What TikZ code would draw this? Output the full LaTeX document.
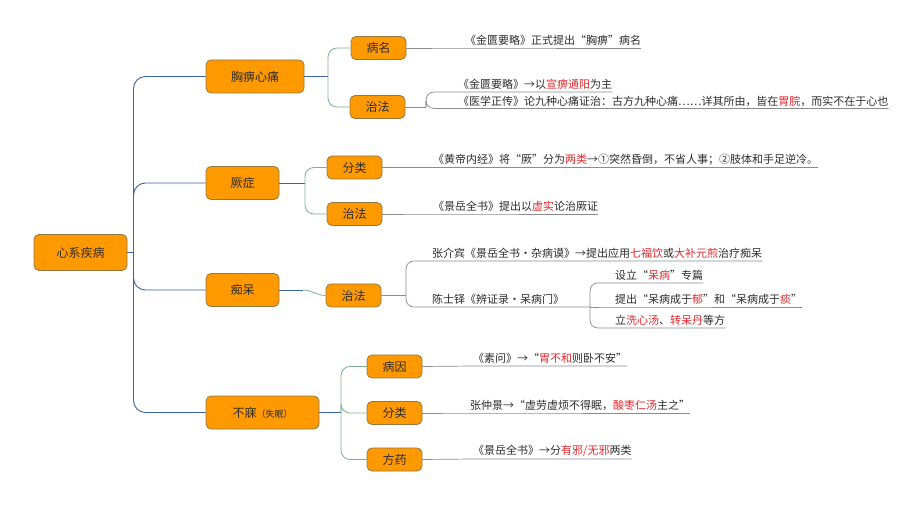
\documentclass[tikz,border=0pt]{standalone}
\usepackage{fontspec}
\setmainfont{Noto Sans CJK SC}
\definecolor{boxfill}{RGB}{255,153,0}
\definecolor{boxdraw}{RGB}{150,120,60}
\definecolor{trunkc}{RGB}{60,100,165}
\definecolor{branchc}{RGB}{125,178,145}
\definecolor{ulinec}{RGB}{140,140,140}
\definecolor{hlc}{RGB}{230,40,45}
\definecolor{txtc}{RGB}{45,45,45}
\newcommand{\rt}[1]{\textcolor{hlc}{#1}}
\tikzset{
  basebox/.style={draw=boxdraw, fill=boxfill, rounded corners=5pt, line width=0.8pt, text=txtc, inner sep=0pt, font=\fontsize{12}{14}\selectfont},
  rootbox/.style={basebox, minimum width=93pt, minimum height=36pt},
  lonebox/.style={basebox, minimum height=33pt},
  ltwobox/.style={basebox, minimum width=55pt, minimum height=23pt},
  leaf/.style={anchor=south west, inner xsep=0pt, inner ysep=2pt, text=txtc, font=\fontsize{11}{13}\selectfont},
  trunkline/.style={draw=trunkc, line width=0.9pt, rounded corners=12pt},
  branchline/.style={draw=branchc, line width=0.8pt, rounded corners=9pt},
  uline/.style={draw=ulinec, line width=0.7pt, rounded corners=8pt},
}
\begin{document}
\begin{tikzpicture}[x=1pt,y=-1pt]
\useasboundingbox[fill=white] (0,0) rectangle (922,505);

% root and level 1
\node[rootbox] (root) at (80.5,252.5) {心系疾病};
\node[lonebox, minimum width=98pt] (xb) at (255,76.5) {胸痹心痛};
\node[lonebox, minimum width=73pt] (jue) at (242.5,183) {厥症};
\node[lonebox, minimum width=73pt] (chi) at (242.5,290) {痴呆};
\node[lonebox, minimum width=113pt] (bumei) at (262.5,412.5) {不寐{\fontsize{9}{10}\selectfont （失眠）}};

% level 2
\node[ltwobox] (bm) at (378.5,48) {病名};
\node[ltwobox] (zf1) at (377.5,107) {治法};
\node[ltwobox] (fl1) at (354.5,167.5) {分类};
\node[ltwobox] (zf2) at (354.5,214) {治法};
\node[ltwobox] (zf3) at (353.5,295.5) {治法};
\node[ltwobox] (by) at (394.5,366.5) {病因};
\node[ltwobox] (fl2) at (394.5,413) {分类};
\node[ltwobox] (fy) at (394.5,459.5) {方药};

% leaves
\node[leaf] (L1) at (465,48) {《金匮要略》正式提出“胸痹”病名};
\node[leaf] (L2) at (458,92) {《金匮要略》→以\rt{宣痹通阳}为主};
\node[leaf] (L3) at (458,108.5) {《医学正传》论九种心痛证治：古方九种心痛……详其所由，皆在\rt{胃脘}，而实不在于心也};
\node[leaf] (L4) at (433,167.5) {《黄帝内经》将“厥”分为\rt{两类}→①突然昏倒，不省人事；②肢体和手足逆冷。};
\node[leaf] (L5) at (433,214) {《景岳全书》提出以\rt{虚实}论治厥证};
\node[leaf] (L6) at (432,261) {张介宾《景岳全书·杂病谟》→提出应用\rt{七福饮}或\rt{大补元煎}治疗痴呆};
\node[leaf] (L7) at (432,307) {陈士铎《辨证录·呆病门》};
\node[leaf] (L8) at (615,283) {设立“\rt{呆病}”专篇};
\node[leaf] (L9) at (615,307) {提出“呆病成于\rt{郁}”和“呆病成于\rt{痰}”};
\node[leaf] (L10) at (615,328) {立\rt{洗心汤}、\rt{转呆丹}等方};
\node[leaf] (L11) at (473,366) {《素问》→“\rt{胃不和}则卧不安”};
\node[leaf] (L12) at (470,413) {张仲景→“虚劳虚烦不得眠，\rt{酸枣仁汤}主之”};
\node[leaf] (L13) at (473,459) {《景岳全书》→分\rt{有邪/无邪}两类};

% trunk
\coordinate (t0) at (133.5,252.5);
\draw[trunkline] (root.east) -- (t0);
\draw[trunkline] (t0) |- (xb.west);
\draw[trunkline] (t0) |- (jue.west);
\draw[trunkline] (t0) |- (chi.west);
\draw[trunkline] (t0) |- (bumei.west);

% level 1 -> level 2
\coordinate (f1) at (328,76.5);
\draw[trunkline] (xb.east) -- (f1);
\draw[branchline] (f1) |- (bm.west);
\draw[branchline] (f1) |- (zf1.west);

\coordinate (f2) at (305,183);
\draw[trunkline] (jue.east) -- (f2);
\draw[branchline] (f2) |- (fl1.west);
\draw[branchline] (f2) |- (zf2.west);

\coordinate (f3) at (303,290);
\draw[trunkline] (chi.east) -- (f3);
\draw[branchline] (f3) to[out=0,in=180] (zf3.west);

\coordinate (f4) at (341,412.5);
\draw[trunkline] (bumei.east) -- (f4);
\draw[branchline] (f4) |- (by.west);
\draw[branchline] (f4) |- (fl2.west);
\draw[branchline] (f4) |- (fy.west);

% level 2 -> leaves
\draw[uline] (bm.east) -- (L1.south west) -- (L1.south east);

\coordinate (g1) at (426,107);
\draw[uline] (zf1.east) -- (g1);
\draw[uline] (g1) |- (L2.south west) -- (L2.south east);
\draw[uline] (g1) |- (L3.south west) -- (L3.south east);

\draw[uline] (fl1.east) -- (L4.south west) -- (L4.south east);
\draw[uline] (zf2.east) -- (L5.south west) -- (L5.south east);

\coordinate (g3) at (406,295.5);
\draw[uline] (zf3.east) -- (g3);
\draw[uline] (g3) |- (L6.south west) -- (L6.south east);
\coordinate (g4) at (590,307);
\draw[uline] (g3) |- (L7.south west) -- (g4);
\draw[uline] (g4) |- (L8.south west) -- (L8.south east);
\draw[uline] (g4) -- (L9.south west) -- (L9.south east);
\draw[uline] (g4) |- (L10.south west) -- (L10.south east);

\draw[uline] (by.east) -- (L11.south west) -- (L11.south east);
\draw[uline] (fl2.east) -- (L12.south west) -- (L12.south east);
\draw[uline] (fy.east) -- (L13.south west) -- (L13.south east);
\end{tikzpicture}
\end{document}
